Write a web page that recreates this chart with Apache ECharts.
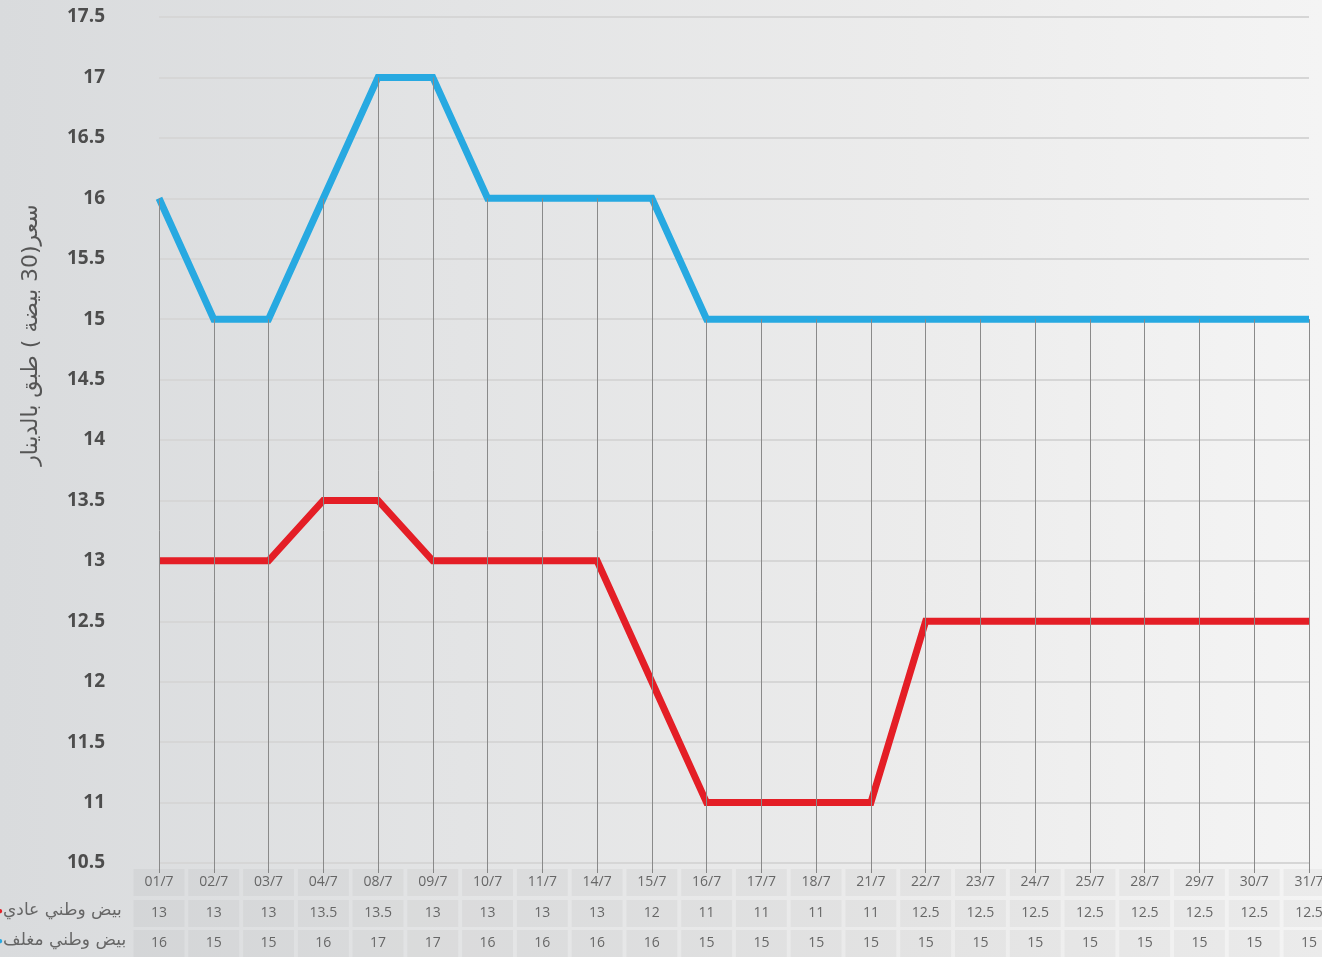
<!DOCTYPE html>
<html>
<head>
<meta charset="utf-8">
<script src="https://cdn.jsdelivr.net/npm/echarts@6/dist/echarts.min.js"></script>
<style>
  html, body { margin: 0; padding: 0; }
  body { background: linear-gradient(90deg, #d9dbdd 0%, #e3e4e5 35%, #ececec 70%, #f4f4f4 100%); }
  #chart { width: 1322px; height: 957px; }
</style>
</head>
<body>
<div id="chart"></div>
<script>
const dates = ['01/7', '02/7', '03/7', '04/7', '08/7', '09/7', '10/7', '11/7', '14/7', '15/7', '16/7',
    '17/7', '18/7', '21/7', '22/7', '23/7', '24/7', '25/7', '28/7', '29/7', '30/7', '31/7'];
const regularEggs = [13, 13, 13, 13.5, 13.5, 13, 13, 13, 13, 12, 11, 11, 11, 11, 12.5, 12.5, 12.5, 12.5, 12.5, 12.5, 12.5, 12.5];
const packedEggs = [16, 15, 15, 16, 17, 17, 16, 16, 16, 16, 15, 15, 15, 15, 15, 15, 15, 15, 15, 15, 15, 15];
const regularName = 'بيض وطني عادي';
const packedName = 'بيض وطني مغلف';
const yTitle = 'سعر(30 بيضة ) طبق بالدينار';
const yMin = 10.5, yMax = 17.5, yStep = 0.5;

const chart = echarts.init(document.getElementById('chart'));

const cellLabel = {
    color: '#666', fontSize: 14, fontFamily: 'Open Sans',
    backgroundColor: 'rgba(0,0,0,0.035)', width: 51, height: 27, lineHeight: 27, align: 'center'
};
const rowAxis = (values, offset) => ({
    type: 'category', data: values.map(String), boundaryGap: false, position: 'bottom', offset: offset,
    axisLine: { show: false }, axisTick: { show: false },
    axisLabel: Object.assign({ interval: 0, margin: 6 }, cellLabel)
});

chart.setOption({
    backgroundColor: 'transparent',
    animation: false,
    grid: { left: 159, right: 13, top: 17, bottom: 94, outerBoundsMode: 'none', containLabel: false },
    xAxis: [
        {
            type: 'category', data: dates, boundaryGap: false,
            axisLine: { show: false },
            axisTick: { show: true, length: 10, lineStyle: { color: '#8a8a8a' } },
            axisLabel: Object.assign({ interval: 0, margin: 6 }, cellLabel)
        },
        rowAxis(regularEggs, 31),
        rowAxis(packedEggs, 61)
    ],
    yAxis: {
        type: 'value', min: yMin, max: yMax, interval: yStep,
        axisLine: { show: false }, axisTick: { show: false },
        axisLabel: { color: '#4d4d4d', fontSize: 19, fontWeight: 'bold', fontFamily: 'Open Sans', margin: 54 },
        splitLine: { lineStyle: { color: '#d6d6d6', width: 2 } }
    },
    graphic: [
        {
            type: 'text', x: 31, y: 335, rotation: Math.PI / 2,
            style: { text: yTitle, font: '22px "DejaVu Sans"', fill: '#555', align: 'center', verticalAlign: 'middle' }
        },
        {
            type: 'text', x: -3, y: 911,
            style: {
                text: '{d|●}{t|' + regularName + '}', verticalAlign: 'middle',
                rich: { d: { fill: '#e41e26', fontSize: 10 }, t: { fill: '#666', fontSize: 17, fontFamily: 'DejaVu Sans' } }
            }
        },
        {
            type: 'text', x: -3, y: 941,
            style: {
                text: '{d|●}{t|' + packedName + '}', verticalAlign: 'middle',
                rich: { d: { fill: '#27a9e1', fontSize: 10 }, t: { fill: '#666', fontSize: 17, fontFamily: 'DejaVu Sans' } }
            }
        }
    ],
    series: [
        {
            name: 'drop', type: 'line', data: packedEggs, z: 1, silent: true,
            showSymbol: false, lineStyle: { opacity: 0 },
            markLine: {
                silent: true, symbol: 'none', label: { show: false },
                lineStyle: { color: '#8a8a8a', width: 1, type: 'solid' },
                data: packedEggs.map((v, i) => [{ coord: [i, v] }, { coord: [i, yMin] }])
            }
        },
        {
            name: packedName, type: 'line', data: packedEggs, z: 3,
            showSymbol: false, lineStyle: { color: '#27a9e1', width: 7, join: 'miter' }
        },
        {
            name: regularName, type: 'line', data: regularEggs, z: 3,
            showSymbol: false, lineStyle: { color: '#e41e26', width: 7, join: 'miter' }
        }
    ]
});
</script>
</body>
</html>
